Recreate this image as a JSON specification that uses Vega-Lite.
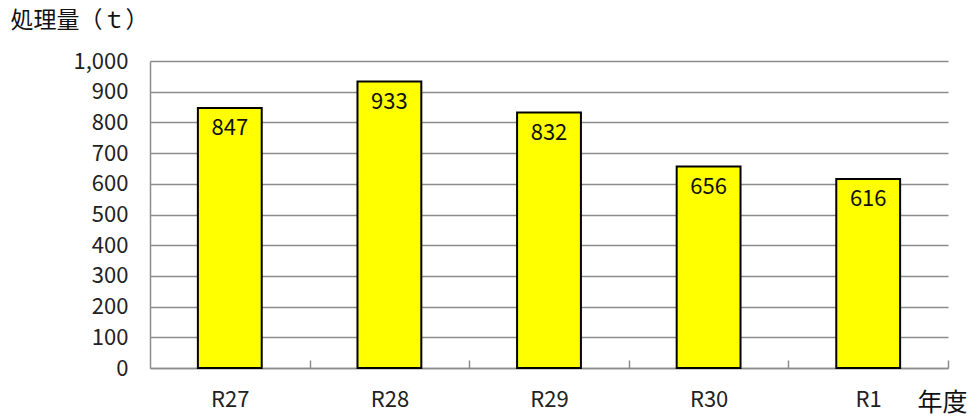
{
  "$schema": "https://vega.github.io/schema/vega-lite/v6.json",
  "autosize": {"type": "none"},
  "padding": {"left": 150, "top": 61, "right": 27, "bottom": 48},
  "width": 798,
  "height": 307,
  "background": "white",
  "data": {
    "values": [
      {"year": "R27", "amount": 847},
      {"year": "R28", "amount": 933},
      {"year": "R29", "amount": 832},
      {"year": "R30", "amount": 656},
      {"year": "R1", "amount": 616}
    ]
  },
  "config": {
    "view": {"stroke": null},
    "font": "Noto Sans CJK JP"
  },
  "encoding": {
    "x": {
      "field": "year",
      "type": "nominal",
      "sort": null,
      "scale": {"paddingInner": 0.6, "paddingOuter": 0.3},
      "axis": {
        "title": "年度",
        "titleFont": "Noto Sans CJK JP",
        "titleFontSize": 25,
        "titleFontWeight": "normal",
        "titleColor": "#111",
        "titleAlign": "left",
        "titleBaseline": "top",
        "titleAnchor": null,
        "titleX": 767,
        "titleY": 22,
        "labelAngle": 0,
        "labelFontSize": 22,
        "labelColor": "#222",
        "labelPadding": 29,
        "domainColor": "#8c8c8c",
        "domainWidth": 1.5,
        "tickColor": "#8c8c8c",
        "tickWidth": 1.5,
        "tickSize": -8,
        "tickOffset": 79.8,
        "labelOffset": -79.8,
        "grid": false
      }
    },
    "y": {
      "field": "amount",
      "type": "quantitative",
      "scale": {"domain": [0, 1000], "nice": false},
      "axis": {
        "title": "処理量（ｔ）",
        "titleFont": "Noto Sans CJK JP",
        "titleFontSize": 23,
        "titleFontWeight": "normal",
        "titleColor": "#111",
        "titleAngle": 0,
        "titleAlign": "left",
        "titleBaseline": "top",
        "titleX": -140,
        "titleY": -52,
        "values": [0, 100, 200, 300, 400, 500, 600, 700, 800, 900, 1000],
        "format": ",.0f",
        "labelFontSize": 22,
        "labelColor": "#222",
        "labelPadding": 22,
        "ticks": false,
        "domainColor": "#8c8c8c",
        "domainWidth": 1.5,
        "grid": true,
        "gridColor": "#8c8c8c",
        "gridWidth": 1.5
      }
    }
  },
  "layer": [
    {
      "mark": {"type": "bar", "color": "#ffff00", "stroke": "#000", "strokeWidth": 2}
    },
    {
      "mark": {"type": "text", "baseline": "middle", "dy": 20, "fontSize": 22, "color": "#111"},
      "encoding": {"text": {"field": "amount", "type": "quantitative"}}
    }
  ]
}
